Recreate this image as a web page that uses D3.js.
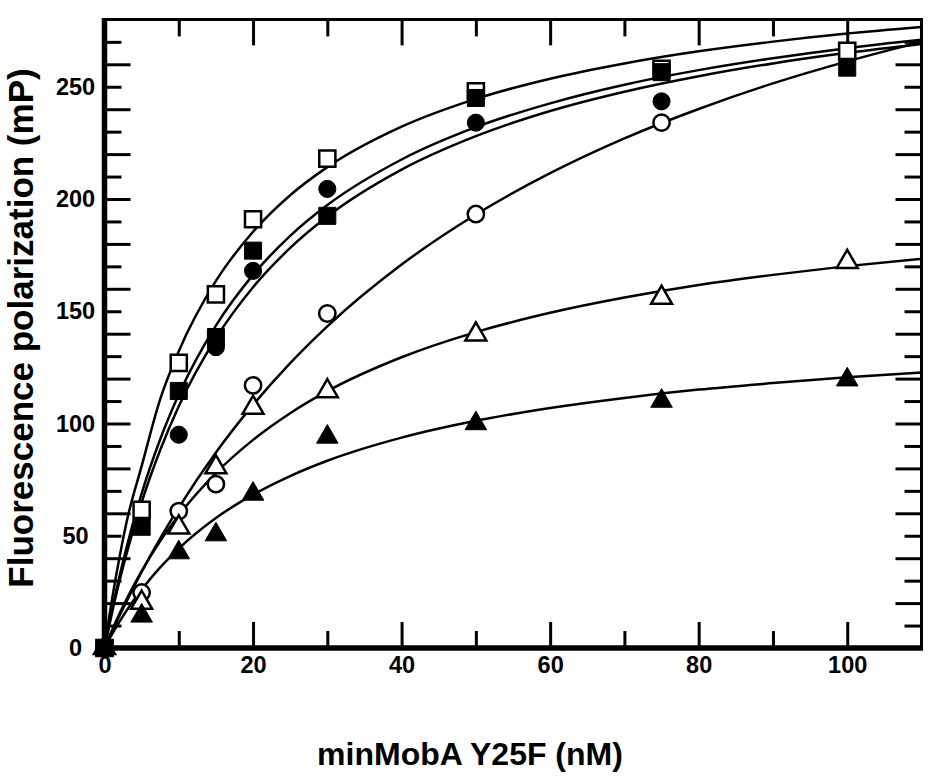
<!DOCTYPE html>
<html>
<head>
<meta charset="utf-8">
<script src="https://cdn.jsdelivr.net/npm/d3@7"></script>
<style>
  body { margin: 0; background: #fff; }
  svg { display: block; font-family: "Liberation Sans", Arial, Helvetica, sans-serif; font-weight: bold; }
</style>
</head>
<body>
<script>
// measured points (x = minMobA Y25F, nM)
const conc = [0, 5, 10, 15, 20, 30, 50, 75, 100];
const openSquare     = [0, 61.5, 127, 157.5, 191, 218, 248, 258, 266];
const filledSquare   = [0, 54, 114.5, 138.5, 177, 192.5, 245, 256.5, 258.5];
const filledCircle   = [0, null, 95, 134, 168, 204.5, 234, 243.5, null];
const openCircle     = [0, 24.7, 61, 73, 117, 149, 193.3, 234, null];
const openTriangle   = [0, 20.2, 53.7, 80.5, 107, 114.4, 139.7, 156, 172];
const filledTriangle = [0, 14.3, 42.5, 50.5, 68.6, 94, 100, 110, 119.5];

// fitted curves
const curveX   = [0, 1, 2, 3, 5, 7.5, 10, 15, 20, 25, 30, 40, 50, 60, 70, 80, 90, 100, 110];
const fitOpenSquare     = [0, 21.4, 40.1, 56.5, 81, 110.9, 132.2, 163.5, 185.4, 201.7, 214.2, 232.2, 244.6, 253.6, 260.4, 265.8, 270.1, 273.7, 276.6];
const fitFilledSquare   = [0, 16.7, 31.7, 45.2, 68.8, 93.0, 112.9, 143.6, 166.2, 183.6, 197.3, 217.6, 232.0, 242.6, 250.9, 257.4, 262.7, 267.2, 270.9];
const fitFilledCircle   = [0, 15.5, 29.6, 42.4, 64.9, 88.2, 107.7, 138.0, 160.7, 178.2, 192.2, 213.1, 228.0, 239.2, 247.8, 254.7, 260.4, 265.1, 269.1];
const fitOpenCircle     = [0, 7.3, 14.3, 21.0, 33.9, 48.8, 62.5, 87.1, 108.3, 126.9, 143.3, 170.8, 193.1, 211.5, 227.0, 240.1, 251.5, 261.3, 270.0];
const fitOpenTriangle   = [0, 7.8, 15.1, 21.9, 34.2, 47.6, 59.1, 77.9, 92.7, 104.6, 114.4, 129.5, 140.7, 149.3, 156.1, 161.7, 166.2, 170.1, 173.4];
const fitFilledTriangle = [0, 6.1, 11.6, 16.8, 26.0, 35.9, 44.3, 57.9, 68.3, 76.6, 83.4, 93.7, 101.2, 106.9, 111.4, 115.1, 118.0, 120.6, 122.7];

// axis ticks
const xLabels = [0, 20, 40, 60, 80, 100];
const xMajor = [20, 40, 60, 80, 100];
const xMinor = [10, 30, 50, 70, 90];
const yLabels = [0, 50, 100, 150, 200, 250];
const yMajor = [20, 40, 60, 80, 100, 120, 140, 160, 180, 200, 220, 240, 260];
const yMinor = [10, 30, 50, 70, 90, 110, 130, 150, 170, 190, 210, 230, 250, 270];

function init() {
    const w = 943;
    const h = 783;
    const left = 104.5, right = 921.5, top = 19.4, bottom = 648;

    const svg = d3.select('body')
      .append('svg')
        .attr("width", w)
        .attr("height", h);

    const x = d3.scaleLinear().domain([0, 110]).range([left, right]);
    const y = d3.scaleLinear().domain([0, 280]).range([bottom, top]);

    // ticks, all pointing inwards
    function ticks(axisFn, vals, len, translate) {
        const g = svg.append('g')
            .attr("transform", translate)
            .call(axisFn.tickValues(vals).tickSizeInner(len).tickSizeOuter(0).tickFormat(""));
        g.select('.domain').remove();
        g.selectAll('line').attr("stroke", "#000").attr("stroke-width", 3);
    }
    ticks(d3.axisBottom(x), xMajor, -26, `translate(0,${bottom})`);
    ticks(d3.axisBottom(x), xMinor, -17, `translate(0,${bottom})`);
    ticks(d3.axisTop(x), xMajor, -26, `translate(0,${top})`);
    ticks(d3.axisTop(x), xMinor, -17, `translate(0,${top})`);
    ticks(d3.axisLeft(y), yMajor, -26, `translate(${left},0)`);
    ticks(d3.axisLeft(y), yMinor, -17, `translate(${left},0)`);
    ticks(d3.axisRight(y), yMajor, -26, `translate(${right},0)`);
    ticks(d3.axisRight(y), yMinor, -17, `translate(${right},0)`);

    // frame
    svg.append('line').attr("x1", left).attr("x2", right).attr("y1", top).attr("y2", top)
        .attr("stroke", "#000").attr("stroke-width", 3);
    svg.append('line').attr("x1", right).attr("x2", right).attr("y1", top - 1.5).attr("y2", bottom)
        .attr("stroke", "#000").attr("stroke-width", 3);
    svg.append('line').attr("x1", left).attr("x2", left).attr("y1", top - 1.5).attr("y2", bottom + 2.5)
        .attr("stroke", "#000").attr("stroke-width", 5.5);
    svg.append('line').attr("x1", left - 2.5).attr("x2", right + 1.5).attr("y1", bottom).attr("y2", bottom)
        .attr("stroke", "#000").attr("stroke-width", 5.5);

    // tick labels
    const xl = svg.append('g')
        .attr("transform", `translate(0,${bottom})`)
        .call(d3.axisBottom(x).tickValues(xLabels).tickSize(0).tickPadding(8).tickFormat(d3.format("d")));
    xl.select('.domain').remove();
    xl.selectAll('text').attr("font-size", 23.5).attr("font-family", null).attr("fill", "#000");

    const yl = svg.append('g')
        .attr("transform", `translate(${left},0)`)
        .call(d3.axisLeft(y).tickValues(yLabels).tickSize(0).tickFormat(d3.format("d")));
    yl.select('.domain').remove();
    yl.selectAll('text').attr("font-size", 23.5).attr("font-family", null).attr("fill", "#000")
        .attr("text-anchor", "middle").attr("x", -29);

    // fitted curves
    const fits = [fitOpenSquare, fitFilledSquare, fitFilledCircle, fitOpenCircle, fitOpenTriangle, fitFilledTriangle];
    const line = d3.line()
        .x(d => x(d[0]))
        .y(d => y(d[1]))
        .curve(d3.curveMonotoneX);
    svg.append('g').selectAll('path')
      .data(fits)
      .enter()
      .append('path')
        .attr("d", f => line(curveX.map((c, i) => [c, f[i]])))
        .attr("fill", "none")
        .attr("stroke", "#000")
        .attr("stroke-width", 2.5);

    // markers
    const series = [
        { v: openSquare, type: d3.symbolSquare, size: 260, fill: "#fff" },
        { v: openCircle, type: d3.symbolCircle, size: 210, fill: "#fff" },
        { v: openTriangle, type: d3.symbolTriangle, size: 190, fill: "#fff" },
        { v: filledCircle, type: d3.symbolCircle, size: 230, fill: "#000" },
        { v: filledSquare, type: d3.symbolSquare, size: 290, fill: "#000" },
        { v: filledTriangle, type: d3.symbolTriangle, size: 200, fill: "#000" }
    ];
    series.forEach(s => {
        const pts = conc.map((c, i) => [c, s.v[i]]).filter(p => p[1] !== null);
        svg.append('g').selectAll('path')
          .data(pts)
          .enter()
          .append('path')
            .attr("transform", d => `translate(${x(d[0])},${y(d[1])})`)
            .attr("d", d3.symbol().type(s.type).size(s.size))
            .attr("fill", s.fill)
            .attr("stroke", "#000")
            .attr("stroke-width", s.fill === "#fff" ? 2.5 : 1);
    });

    // axis titles
    svg.append('text')
        .attr("x", 470)
        .attr("y", 765)
        .attr("text-anchor", "middle")
        .attr("font-size", 32)
        .text("minMobA Y25F (nM)");

    svg.append('text')
        .attr("transform", "translate(33,328) rotate(-90)")
        .attr("text-anchor", "middle")
        .attr("font-size", 35)
        .text("Fluorescence polarization (mP)");
}

window.onload = init;
</script>
</body>
</html>
